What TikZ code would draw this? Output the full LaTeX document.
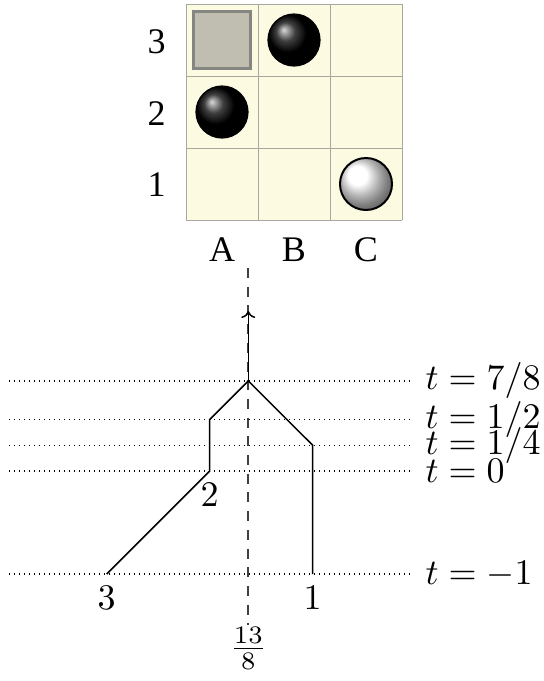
\documentclass[tikz,border=0pt]{standalone}
\usepackage{fontspec}
\newfontfamily\gridfont{Liberation Serif}
\usetikzlibrary{arrows.meta}
\definecolor{cellbg}{HTML}{FDFAE2}
\definecolor{gridln}{HTML}{A8A8A0}
\definecolor{blockfill}{HTML}{C0BEB1}
\definecolor{blockdraw}{HTML}{858582}
\definecolor{axisgray}{HTML}{404040}
\tikzset{
  gridlbl/.style={font=\gridfont\fontsize{36}{42}\selectfont, inner sep=0pt, anchor=base},
  mathlbl/.style={font=\normalsize, scale=3.6},
  worldline/.style={line width=1.5pt, black},
  timeline/.style={line width=1.2pt, dash pattern=on 1.2pt off 3.8pt, black},
  axisline/.style={line width=2pt, axisgray, dash pattern=on 10pt off 8.7pt},
  cellline/.style={gridln, line width=1pt},
}
\begin{document}
\begin{tikzpicture}[x=1pt,y=-1pt]
\useasboundingbox (0,0) rectangle (544,681);
% board
\fill[cellbg] (186,4) rectangle (402,220);
\foreach \xx in {186,258,330,402} \draw[cellline] (\xx,4) -- (\xx,220);
\foreach \yy in {4,76,148,220} \draw[cellline] (186,\yy) -- (402,\yy);
\draw[blockdraw, fill=blockfill, line width=3pt] (193.5,11.5) rectangle (250.5,68.5);
\shade[ball color=black] (294,40) circle (26);
\draw[line width=1.2pt] (294,40) circle (26);
\shade[ball color=black] (222,112) circle (26);
\draw[line width=1.2pt] (222,112) circle (26);
\shade[ball color=white] (366,184) circle (26);
\draw[line width=2pt] (366,184) circle (26);
\node[gridlbl] (r3) at (156.5,53) {3};
\node[gridlbl] (r2) at (156.5,125) {2};
\node[gridlbl] (r1) at (156.5,196) {1};
\node[gridlbl] (cA) at (222,261) {A};
\node[gridlbl] (cB) at (294,261) {B};
\node[gridlbl] (cC) at (366,261) {C};
% spacetime diagram
\coordinate (p3) at (106.7,574);
\coordinate (p2) at (209.7,471);
\coordinate (q2) at (209.7,419.5);
\coordinate (j)  at (248.3,380.9);
\coordinate (q1) at (312.7,445.25);
\coordinate (p1) at (312.7,574);
\coordinate (atop) at (248.3,268);
\coordinate (abot) at (248.3,625);
\coordinate (tip) at (248.3,311);
\foreach \yy/\lbl/\nm in {380.9/{7/8}/a, 419.5/{1/2}/b, 445.25/{1/4}/c, 471/{0}/d, 574/{-1}/e}{
  \coordinate (l\nm) at (9,\yy);
  \coordinate (r\nm) at (413,\yy);
  \draw[timeline] (l\nm) -- (r\nm);
  \node[mathlbl, anchor=west] (t\nm) at (r\nm) {$t=\lbl$};
}
\draw[axisline] (atop) -- (abot);
\node[mathlbl, anchor=north, yshift=3pt] (frac) at (abot) {$\frac{13}{8}$};
\draw[worldline] (p3) -- (p2) -- (q2) -- (j);
\draw[worldline] (p1) -- (q1) -- (j);
\draw[worldline, -{To[length=7pt,width=14pt]}] (j) -- (tip);
\node[mathlbl, anchor=north] (n2) at (p2) {$2$};
\node[mathlbl, anchor=north] (n3) at (p3) {$3$};
\node[mathlbl, anchor=north] (n1) at (p1) {$1$};
\end{tikzpicture}
\end{document}
